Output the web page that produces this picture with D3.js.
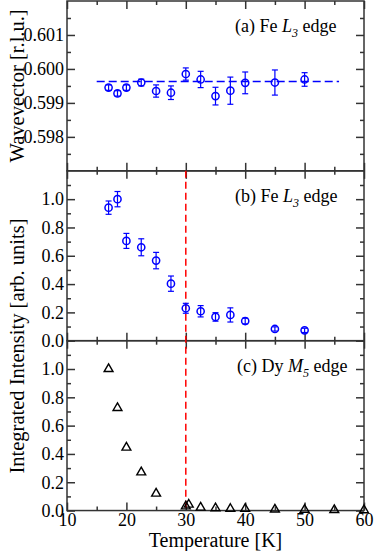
<!DOCTYPE html>
<html><head><meta charset="utf-8">
<script src="https://cdn.jsdelivr.net/npm/d3@7"></script>
<style>
html,body{margin:0;padding:0;background:#fff;}
svg{display:block;font-family:"Liberation Serif","Times New Roman",serif;}
svg text{font-family:"Liberation Serif","Times New Roman",serif;}
</style></head>
<body><svg id="c" width="374" height="551"></svg>
<script>
// ---- data ----
const feTemps = [17, 18.5, 20, 22.5, 25, 27.5, 30, 32.5, 35, 37.5, 40, 45, 50];
const wavevector = [0.59945, 0.59928, 0.59945, 0.5996, 0.59935, 0.5993, 0.59985, 0.59969, 0.5992, 0.59936, 0.59959, 0.5996, 0.59969];
const wavevectorErr = [0.00008, 0.00008, 0.00008, 0.0001, 0.00018, 0.0002, 0.00018, 0.00024, 0.00026, 0.0004, 0.00032, 0.00037, 0.0002];
const wavevectorMean = 0.59963;
const meanLineRange = [15, 55.8];
const feIntensity = [0.94, 1.0, 0.705, 0.66, 0.566, 0.403, 0.229, 0.208, 0.168, 0.182, 0.139, 0.083, 0.073];
const feIntensityErr = [0.047, 0.054, 0.053, 0.06, 0.058, 0.054, 0.035, 0.04, 0.03, 0.05, 0.02, 0.015, 0.015];
const dyTemps = [17, 18.5, 20, 22.5, 25, 30, 30.5, 32.5, 35, 37.5, 40, 45, 50, 55, 60];
const dyIntensity = [1.0, 0.725, 0.445, 0.27, 0.12, 0.03, 0.042, 0.021, 0.017, 0.012, 0.012, 0.008, 0.006, 0.004, 0.003];
const transitionT = 30;
const xTicks = [10, 20, 30, 40, 50, 60];
const xMinorTicks = [15, 25, 35, 45, 55];
const wvTicks = [0.598, 0.599, 0.600, 0.601];
const wvMinorTicks = [0.5975, 0.5985, 0.5995, 0.6005, 0.6015];
const intTicks = [0.0, 0.2, 0.4, 0.6, 0.8, 1.0];
const intMinorTicks = [0.1, 0.3, 0.5, 0.7, 0.9, 1.1];
const panelLabels = [
  {pre: "(a) Fe ", ital: "L", sub: "3", post: " edge"},
  {pre: "(b) Fe ", ital: "L", sub: "3", post: " edge"},
  {pre: "(c) Dy ", ital: "M", sub: "5", post: " edge"}
];

// ---- layout ----
const FONT = '"Liberation Serif","Times New Roman",serif';
const svg = d3.select("#c");
const L = 67, R = 364, top0 = 1, ph = 169.85;
const frameColor = "#333";
const x = d3.scaleLinear().domain([10, 60]).range([L, R]);
const panels = [0, 1, 2].map(i => ({y0: top0 + i * ph, y1: top0 + (i + 1) * ph}));
const yA = d3.scaleLinear().domain([0.597, 0.602]).range([panels[0].y1, panels[0].y0]);
const yB = d3.scaleLinear().domain([0, 1.2]).range([panels[1].y1, panels[1].y0]);
const yC = d3.scaleLinear().domain([0, 1.2]).range([panels[2].y1, panels[2].y0]);

function styleAxis(g) {
  g.attr("font-family", FONT).attr("font-size", 18);
  g.select(".domain").remove();
  g.selectAll("line").attr("stroke", frameColor).attr("stroke-width", 1.5);
  g.selectAll("text").attr("fill", "#000");
}

function drawAxes(y, p, majors, minors, fmt, showX) {
  svg.append("g").attr("transform", `translate(${L},0)`)
    .call(d3.axisLeft(y).tickValues(majors).tickSizeInner(-8).tickSizeOuter(0).tickPadding(3).tickFormat(fmt)).call(styleAxis);
  svg.append("g").attr("transform", `translate(${L},0)`)
    .call(d3.axisLeft(y).tickValues(minors).tickSizeInner(-4).tickSizeOuter(0).tickFormat("")).call(styleAxis);
  svg.append("g").attr("transform", `translate(${R},0)`)
    .call(d3.axisRight(y).tickValues(majors).tickSizeInner(-8).tickSizeOuter(0).tickFormat("")).call(styleAxis);
  svg.append("g").attr("transform", `translate(${R},0)`)
    .call(d3.axisRight(y).tickValues(minors).tickSizeInner(-4).tickSizeOuter(0).tickFormat("")).call(styleAxis);
  svg.append("g").attr("transform", `translate(0,${p.y1})`)
    .call(d3.axisBottom(x).tickValues(xTicks).tickSizeInner(-8).tickSizeOuter(0).tickPadding(2.5).tickFormat(showX ? d3.format("d") : "")).call(styleAxis);
  svg.append("g").attr("transform", `translate(0,${p.y1})`)
    .call(d3.axisBottom(x).tickValues(xMinorTicks).tickSizeInner(-4).tickSizeOuter(0).tickFormat("")).call(styleAxis);
  svg.append("g").attr("transform", `translate(0,${p.y0})`)
    .call(d3.axisTop(x).tickValues(xTicks).tickSizeInner(-8).tickSizeOuter(0).tickFormat("")).call(styleAxis);
  svg.append("g").attr("transform", `translate(0,${p.y0})`)
    .call(d3.axisTop(x).tickValues(xMinorTicks).tickSizeInner(-4).tickSizeOuter(0).tickFormat("")).call(styleAxis);
}

drawAxes(yA, panels[0], wvTicks, wvMinorTicks, d3.format(".3f"), false);
drawAxes(yB, panels[1], intTicks, intMinorTicks, d3.format(".1f"), false);
drawAxes(yC, panels[2], intTicks, intMinorTicks, d3.format(".1f"), true);

// frames
panels.forEach(p => {
  svg.append("rect").attr("x", L).attr("y", p.y0).attr("width", R - L).attr("height", p.y1 - p.y0)
    .attr("fill", "none").attr("stroke", frameColor).attr("stroke-width", 1.5);
});

// red dashed transition line through panels b and c
svg.append("line").attr("x1", x(transitionT)).attr("x2", x(transitionT))
  .attr("y1", yB(1.2)).attr("y2", yC(0))
  .attr("stroke", "#ff0000").attr("stroke-width", 1.5).attr("stroke-dasharray", "7,4");

// panel a: mean line
svg.append("line").attr("x1", x(meanLineRange[0])).attr("x2", x(meanLineRange[1]))
  .attr("y1", yA(wavevectorMean)).attr("y2", yA(wavevectorMean))
  .attr("stroke", "#0000ff").attr("stroke-width", 1.5).attr("stroke-dasharray", "8,4");

function errPoints(y, vals, errs) {
  const g = svg.append("g").attr("stroke", "#0000ff").attr("stroke-width", 1.2).attr("fill", "none");
  feTemps.forEach((t, i) => {
    const cx = x(t), lo = y(vals[i] - errs[i]), hi = y(vals[i] + errs[i]);
    g.append("line").attr("x1", cx).attr("x2", cx).attr("y1", lo).attr("y2", hi);
    g.append("line").attr("x1", cx - 3).attr("x2", cx + 3).attr("y1", lo).attr("y2", lo);
    g.append("line").attr("x1", cx - 3).attr("x2", cx + 3).attr("y1", hi).attr("y2", hi);
  });
  svg.append("g").selectAll("circle").data(feTemps).join("circle")
    .attr("cx", d => x(d)).attr("cy", (d, i) => y(vals[i])).attr("r", 3.6)
    .attr("fill", "none").attr("stroke", "#0000ff").attr("stroke-width", 1.5);
}
errPoints(yA, wavevector, wavevectorErr);
errPoints(yB, feIntensity, feIntensityErr);

// panel c triangles
const tri = d3.symbol().type(d3.symbolTriangle).size(34);
svg.append("g").selectAll("path").data(dyTemps).join("path")
  .attr("d", tri)
  .attr("transform", (d, i) => `translate(${x(d)},${yC(dyIntensity[i])})`)
  .attr("fill", "none").attr("stroke", "#000").attr("stroke-width", 1.4);

// panel labels
panelLabels.forEach((lab, i) => {
  const t = svg.append("text").attr("x", i === 2 ? 237 : 235).attr("y", panels[i].y0 + 31)
    .attr("font-size", 18).attr("fill", "#000");
  t.append("tspan").text(lab.pre);
  t.append("tspan").attr("font-style", "italic").text(lab.ital);
  t.append("tspan").attr("font-style", "italic").attr("font-size", 12).attr("dy", 5).text(lab.sub);
  t.append("tspan").attr("dy", -5).text(lab.post);
});

// axis titles
svg.append("text").attr("transform", `translate(24,${(panels[0].y0 + panels[0].y1) / 2}) rotate(-90)`)
  .attr("text-anchor", "middle").attr("font-size", 20.5).text("Wavevector [r.l.u.]");
svg.append("text").attr("transform", `translate(24,346) rotate(-90)`)
  .attr("text-anchor", "middle").attr("font-size", 20.5).text("Integrated Intensity [arb. units]");
svg.append("text").attr("x", (L + R) / 2).attr("y", 546.5)
  .attr("text-anchor", "middle").attr("font-size", 20).text("Temperature [K]");
</script></body></html>
